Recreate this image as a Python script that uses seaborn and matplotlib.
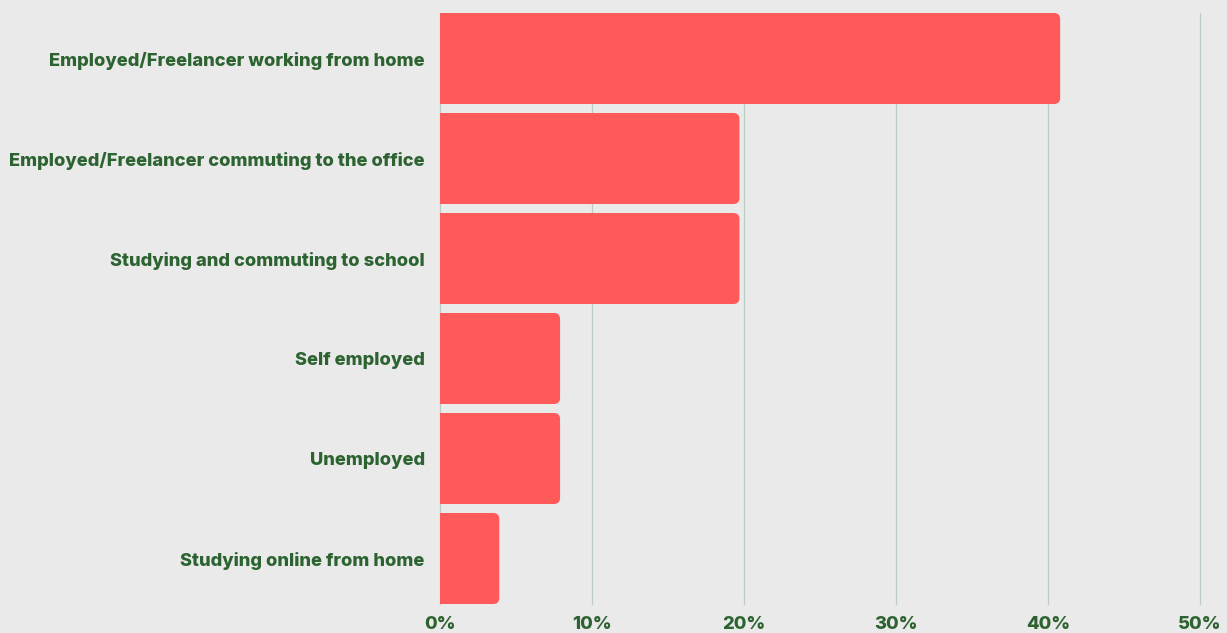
import matplotlib
matplotlib.use("Agg")
import matplotlib.pyplot as plt
import seaborn as sns
import pandas as pd
from matplotlib.patches import FancyBboxPatch, Rectangle

categories = [
    "Employed/Freelancer working from home",
    "Employed/Freelancer commuting to the office",
    "Studying and commuting to school",
    "Self employed",
    "Unemployed",
    "Studying online from home",
]
shares = [40.8, 19.7, 19.7, 7.9, 7.9, 3.9]
x_ticks = [0, 10, 20, 30, 40, 50]
x_tick_labels = ["0%", "10%", "20%", "30%", "40%", "50%"]

BG = "#EAEAEA"
BAR = "#FF5A5A"
TEXT = "#2C6330"
GRID = "#B9CBBE"

sns.set_theme(style="white")
plt.rcParams["font.family"] = ["Inter", "DejaVu Sans"]

df = pd.DataFrame({"category": categories, "share": shares})

fig = plt.figure(figsize=(12.27, 6.33), dpi=100, facecolor=BG)
ax = fig.add_axes([440 / 1227, 1 - 604 / 633, (1200 - 440) / 1227, (604 - 13) / 633])
ax.set_facecolor(BG)

bar_h = 0.91
sns.barplot(data=df, x="share", y="category", orient="h", color=BAR,
            width=bar_h, saturation=1, ax=ax, zorder=3)

# swap plain bars for ones with rounded right-hand corners
for p in list(ax.patches):
    x0, y0 = p.get_x(), p.get_y()
    w, h = p.get_width(), p.get_height()
    p.set_visible(False)
    r = 0.4
    ax.add_patch(FancyBboxPatch((x0, y0), w, h,
                                boxstyle=f"round,pad=0,rounding_size={r}",
                                mutation_aspect=0.152, facecolor=BAR,
                                edgecolor="none", zorder=3))
    ax.add_patch(Rectangle((x0, y0), min(w, 1.0), h, facecolor=BAR,
                           edgecolor="none", zorder=3))

ax.set_xlim(0, 50)
ax.set_ylim(len(categories) - 1 + bar_h / 2, -bar_h / 2)
ax.set_xticks(x_ticks)
ax.set_xticklabels(x_tick_labels)
for xv in x_ticks:
    ax.axvline(xv, color=GRID, lw=0.9, zorder=1, clip_on=False)

for s in ax.spines.values():
    s.set_visible(False)
ax.tick_params(axis="both", length=0)
ax.tick_params(axis="x", pad=8.5)
ax.tick_params(axis="y", pad=11)
for lbl in ax.get_xticklabels() + ax.get_yticklabels():
    lbl.set_color(TEXT)
    lbl.set_fontweight(800)
    lbl.set_fontsize(13.2)
ax.set_xlabel("")
ax.set_ylabel("")

fig.savefig("out.png", dpi=100, facecolor=BG)
